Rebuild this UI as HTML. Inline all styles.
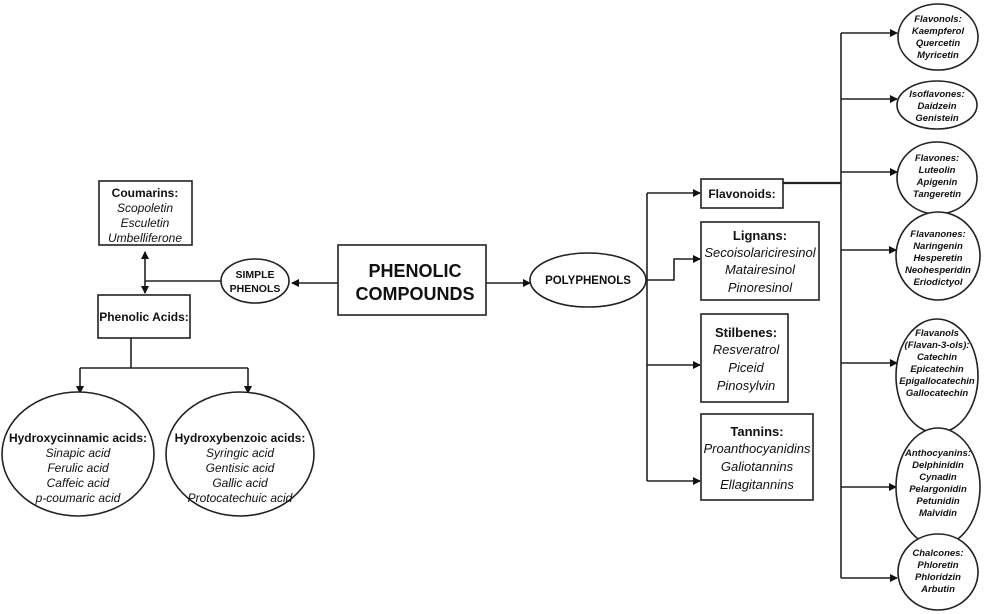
<!DOCTYPE html>
<html><head><meta charset="utf-8"><style>
html,body{margin:0;padding:0;background:#fff}
svg{display:block}
text{font-family:"Liberation Sans",Arial,sans-serif;fill:#111;text-anchor:middle}
.b{font-weight:bold}
.i{font-style:italic}
.r text{font-size:9.5px;font-weight:bold;font-style:italic}
</style></head><body>
<svg width="1000" height="614" viewBox="0 0 1000 614" xmlns="http://www.w3.org/2000/svg">
<defs><marker id="a" markerWidth="8" markerHeight="8" refX="7" refY="4" orient="auto" markerUnits="userSpaceOnUse"><path d="M0,0 L8,4 L0,8 z" fill="#111"/></marker></defs>
<g stroke="#222" stroke-width="1.6" fill="none">
<!-- left -->
<rect x="99" y="181" width="93" height="64" fill="#fff"/>
<rect x="98" y="295" width="92" height="43" fill="#fff"/>
<ellipse cx="255" cy="281" rx="34" ry="22" fill="#fff"/>
<line x1="145" y1="270" x2="145" y2="252" marker-end="url(#a)"/>
<line x1="145" y1="270" x2="145" y2="293" marker-end="url(#a)"/>
<line x1="145" y1="281" x2="221" y2="281"/>
<line x1="338" y1="283" x2="292" y2="283" marker-end="url(#a)"/>
<line x1="131" y1="338" x2="131" y2="368"/>
<line x1="80" y1="368" x2="248" y2="368"/>
<line x1="80" y1="368" x2="80" y2="393" marker-end="url(#a)"/>
<line x1="248" y1="368" x2="248" y2="393" marker-end="url(#a)"/>
<ellipse cx="78" cy="454" rx="76" ry="62" fill="#fff"/>
<ellipse cx="240" cy="454" rx="74" ry="62" fill="#fff"/>
<!-- center -->
<rect x="338" y="245" width="148" height="70" fill="#fff"/>
<line x1="486" y1="283" x2="530" y2="283" marker-end="url(#a)"/>
<ellipse cx="588" cy="280" rx="58" ry="27" fill="#fff"/>
<line x1="647" y1="193" x2="647" y2="481"/>
<line x1="647" y1="193" x2="700" y2="193" marker-end="url(#a)"/>
<polyline points="646,280 674,280 674,259 700,259" marker-end="url(#a)"/>
<line x1="647" y1="365" x2="700" y2="365" marker-end="url(#a)"/>
<line x1="647" y1="481" x2="700" y2="481" marker-end="url(#a)"/>
<rect x="701" y="179" width="82" height="29" fill="#fff"/>
<rect x="701" y="222" width="118" height="78" fill="#fff"/>
<rect x="701" y="314" width="87" height="88" fill="#fff"/>
<rect x="701" y="414" width="112" height="86" fill="#fff"/>
<!-- right -->
<line x1="783" y1="183" x2="841" y2="183" stroke-width="2.2"/>
<line x1="841" y1="33" x2="841" y2="578"/>
<line x1="841" y1="33" x2="897" y2="33" marker-end="url(#a)"/>
<line x1="841" y1="99" x2="897" y2="99" marker-end="url(#a)"/>
<line x1="841" y1="172" x2="897" y2="172" marker-end="url(#a)"/>
<line x1="841" y1="250" x2="896" y2="250" marker-end="url(#a)"/>
<line x1="841" y1="363" x2="897" y2="363" marker-end="url(#a)"/>
<line x1="841" y1="487" x2="896" y2="487" marker-end="url(#a)"/>
<line x1="841" y1="578" x2="897" y2="578" marker-end="url(#a)"/>
<ellipse cx="938" cy="37" rx="40" ry="33" fill="#fff"/>
<ellipse cx="937" cy="105" rx="40" ry="24" fill="#fff"/>
<ellipse cx="937" cy="178" rx="40" ry="36" fill="#fff"/>
<ellipse cx="938" cy="256" rx="42" ry="44" fill="#fff"/>
<ellipse cx="937" cy="376" rx="41" ry="57" fill="#fff"/>
<ellipse cx="938" cy="487" rx="42" ry="59" fill="#fff"/>
<ellipse cx="938" cy="572" rx="40" ry="38" fill="#fff"/>
</g>
<g font-size="12">
<text x="145" y="197" class="b">Coumarins:</text>
<text x="145" y="212" class="i">Scopoletin</text>
<text x="145" y="227" class="i">Esculetin</text>
<text x="145" y="242" class="i">Umbelliferone</text>
<text x="144" y="321" class="b">Phenolic Acids:</text>
<text x="255" y="278" class="b" font-size="10.5">SIMPLE</text>
<text x="255" y="292" class="b" font-size="10.5">PHENOLS</text>
<text x="78" y="442" class="b">Hydroxycinnamic acids:</text>
<text x="78" y="457" class="i">Sinapic acid</text>
<text x="78" y="472" class="i">Ferulic acid</text>
<text x="78" y="487" class="i">Caffeic acid</text>
<text x="78" y="502" class="i">p-coumaric acid</text>
<text x="240" y="442" class="b">Hydroxybenzoic acids:</text>
<text x="240" y="457" class="i">Syringic acid</text>
<text x="240" y="472" class="i">Gentisic acid</text>
<text x="240" y="487" class="i">Gallic acid</text>
<text x="240" y="502" class="i">Protocatechuic acid</text>
<text x="415" y="277" class="b" font-size="18">PHENOLIC</text>
<text x="415" y="300" class="b" font-size="18">COMPOUNDS</text>
<text x="588" y="284" class="b" font-size="11.5">POLYPHENOLS</text>
<text x="742" y="198" class="b" text-anchor="middle">Flavonoids:</text>
<text x="760" y="240" class="b" font-size="13">Lignans:</text>
<text x="760" y="257" class="i" font-size="13">Secoisolariciresinol</text>
<text x="760" y="274" class="i" font-size="13">Matairesinol</text>
<text x="760" y="292" class="i" font-size="13">Pinoresinol</text>
<text x="746" y="337" class="b" font-size="13">Stilbenes:</text>
<text x="746" y="354" class="i" font-size="13">Resveratrol</text>
<text x="746" y="372" class="i" font-size="13">Piceid</text>
<text x="746" y="390" class="i" font-size="13">Pinosylvin</text>
<text x="757" y="436" class="b" font-size="13">Tannins:</text>
<text x="757" y="453" class="i" font-size="13">Proanthocyanidins</text>
<text x="757" y="471" class="i" font-size="13">Galiotannins</text>
<text x="757" y="489" class="i" font-size="13">Ellagitannins</text>
</g>
<g class="r">
<text x="938" y="22">Flavonols:</text>
<text x="938" y="34">Kaempferol</text>
<text x="938" y="46">Quercetin</text>
<text x="938" y="58">Myricetin</text>
<text x="937" y="97">Isoflavones:</text>
<text x="937" y="109">Daidzein</text>
<text x="937" y="121">Genistein</text>
<text x="937" y="161">Flavones:</text>
<text x="937" y="173">Luteolin</text>
<text x="937" y="185">Apigenin</text>
<text x="937" y="197">Tangeretin</text>
<text x="938" y="237">Flavanones:</text>
<text x="938" y="249">Naringenin</text>
<text x="938" y="261">Hesperetin</text>
<text x="938" y="273">Neohesperidin</text>
<text x="938" y="285">Eriodictyol</text>
<text x="937" y="336">Flavanols</text>
<text x="937" y="348">(Flavan-3-ols):</text>
<text x="937" y="360">Catechin</text>
<text x="937" y="372">Epicatechin</text>
<text x="937" y="384">Epigallocatechin</text>
<text x="937" y="396">Gallocatechin</text>
<text x="938" y="456">Anthocyanins:</text>
<text x="938" y="468">Delphinidin</text>
<text x="938" y="480">Cynadin</text>
<text x="938" y="492">Pelargonidin</text>
<text x="938" y="504">Petunidin</text>
<text x="938" y="516">Malvidin</text>
<text x="938" y="556">Chalcones:</text>
<text x="938" y="568">Phloretin</text>
<text x="938" y="580">Phloridzin</text>
<text x="938" y="592">Arbutin</text>
</g>
</svg>
</body></html>
